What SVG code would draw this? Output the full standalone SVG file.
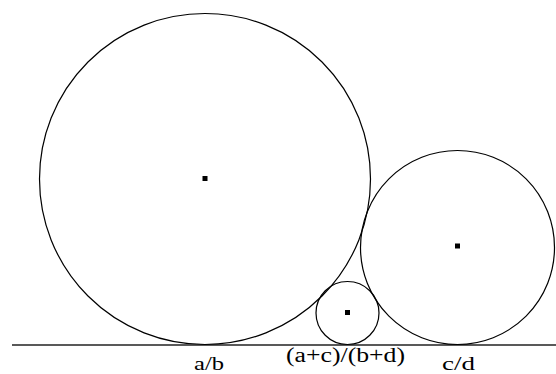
<svg xmlns="http://www.w3.org/2000/svg" width="556" height="374" viewBox="0 0 556 374">
<style>
.c{fill:none;stroke:#000;stroke-width:1.2}
.d{fill:#000}
.t{font-family:"Liberation Serif","Times New Roman",serif;font-size:20px;fill:#000}
.s{font-size:18px}
</style>
<rect width="556" height="374" fill="#fff"/>
<g id="connectors">
<line x1="12" y1="345" x2="556" y2="345" stroke="#222" stroke-width="1.4"/>
</g>
<g id="circle-ab">
<circle class="c" cx="205" cy="179" r="165.5"/>
<rect class="d" x="202.5" y="176" width="5" height="5"/>
<text class="t s" x="194" y="370" textLength="30" lengthAdjust="spacingAndGlyphs">a/b</text>
</g>
<g id="circle-cd">
<circle class="c" cx="457.5" cy="247.5" r="97"/>
<rect class="d" x="455" y="243.5" width="5" height="5"/>
<text class="t s" x="442" y="370" textLength="33" lengthAdjust="spacingAndGlyphs">c/d</text>
</g>
<g id="circle-mediant">
<circle class="c" cx="347.5" cy="313" r="31.5"/>
<rect class="d" x="345" y="310" width="5" height="5"/>
<text class="t" x="286" y="362" textLength="119" lengthAdjust="spacingAndGlyphs">(a+c)/(b+d)</text>
</g>
</svg>
